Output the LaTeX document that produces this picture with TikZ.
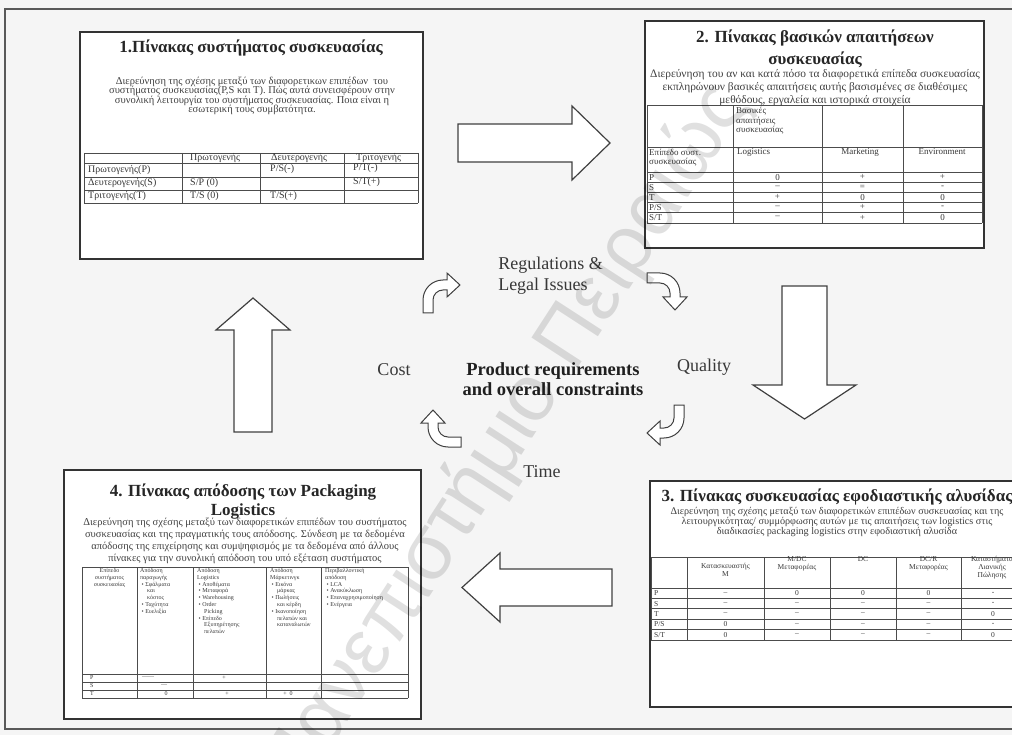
\documentclass[tikz,border=0pt]{standalone}
\usepackage{fontspec}
\setmainfont{Liberation Serif}
\newfontfamily\wmfont{Liberation Sans}
% font size with fixed line pitch, even when lines nearly touch
\newcommand\tfs[2]{\fontsize{#1}{#2}\selectfont\lineskiplimit=-30pt\lineskip=0pt\relax}
\tikzset{
  bendarrow/.pic={
    \draw[smallarrow] (-20,13) -- (-20,0)
      .. controls (-20,-11.05) and (-11.05,-20) .. (0,-20)
      -- (4,-20) -- (4,-27) -- (17,-15) -- (4,-3) -- (4,-10) -- (0,-10)
      .. controls (-5.52,-10) and (-10,-5.52) .. (-10,0)
      -- (-10,13) -- cycle;
  }
}
\begin{document}
\begin{tikzpicture}[x=1pt, y=-1pt,
  panel/.style={draw=black!80, line width=1.4pt, fill=white, inner sep=0pt, outer sep=0pt},
  grid/.style={draw=black!70, line width=0.8pt},
  bigarrow/.style={draw=black!75, line width=1.2pt, fill=white, line join=miter},
  smallarrow/.style={draw=black!75, line width=1pt, fill=white, line join=miter},
  ttl/.style={font=\bfseries\tfs{17}{21}, align=center, inner sep=0pt, text=black!85},
  para/.style={align=center, inner sep=0pt, text=black!75},
  txt/.style={inner sep=0pt, text=black!78},
  lbl/.style={font=\tfs{18}{21}, inner sep=0pt, text=black!78},
  core/.style={font=\bfseries\tfs{18.5}{20.5}, align=center, inner sep=0pt, text=black!88},
]
\useasboundingbox (0,0) rectangle (1012,735);
\clip (0,0) rectangle (1012,735);
\fill[black!4] (0,0) rectangle (1012,735);
\draw[black!65, line width=1.2pt] (5,9) rectangle (1030,729);

% ---------- four panels ----------
\node (p1) [panel, minimum width=343pt, minimum height=227pt] at (251.5,145.5) {};
\node (p2) [panel, minimum width=339pt, minimum height=227pt] at (814.5,134.5) {};
\node (p3) [panel, minimum width=375pt, minimum height=226pt] at (837.5,594) {};
\node (p4) [panel, minimum width=357pt, minimum height=249pt] at (242.5,594.5) {};

% ---------- block arrows between panels ----------
\draw[bigarrow] (458,124) -- (572,124) -- (572,106) -- (610,143) -- (572,180) -- (572,162) -- (458,162) -- cycle;
\draw[bigarrow] (782,286) -- (827,286) -- (827,385) -- (856,385) -- (804.5,419) -- (753,385) -- (782,385) -- cycle;
\draw[bigarrow] (612,569) -- (500,569) -- (500,553) -- (462,587.5) -- (500,622) -- (500,606) -- (612,606) -- cycle;
\draw[bigarrow] (234,432) -- (234,330) -- (216,330) -- (253,298) -- (290,330) -- (272,330) -- (272,432) -- cycle;

% ---------- small bent arrows round the centre ----------
\pic at (443,300) {bendarrow};
\pic[rotate=-90] at (660,293) {bendarrow};
\pic[rotate=180] at (664,418) {bendarrow};
\pic[rotate=90] at (448,427) {bendarrow};

% ---------- centre texts ----------
\node (reg) [lbl, align=left] at (550.5,275.5) {Regulations \&\\Legal Issues};
\node (cost) [lbl] at (394,370) {Cost};
\node (qual) [lbl] at (704,367) {Quality};
\node (time) [lbl] at (542,472) {Time};
\node (core) [core] at (553,379) {Product requirements\\and overall constraints};

% ---------- panel 1 ----------
\node (t1) [ttl] at (251,48) {1.Πίνακας συστήματος συσκευασίας};
\node (d1) [para, font=\tfs{10.5}{9.3}] at (252,96) {Διερεύνηση της σχέσης μεταξύ των διαφορετικων επιπέδων \ του\\συστήματος συσκευασίας(P,S και T). Πώς αυτά συνεισφέρουν στην\\συνολική λειτουργία του συστήματος συσκευασίας. Ποια είναι η\\εσωτερική τους συμβατότητα.};
\foreach \y in {153,163,177,190,203} \draw[grid] (84,\y) -- (418,\y);
\foreach \x in {84,182,260,344,418} \draw[grid] (\x,153) -- (\x,203);
\begin{scope}[every node/.style={txt, anchor=west, font=\tfs{10}{11}}]
  \node (a11) at (190,158) {Πρωτογενής};
  \node (a12) at (271,158) {Δευτερογενής};
  \node (a13) at (356,158) {Τριτογενής};
  \node (a21) at (88,170) {Πρωτογενής(P)};
  \node (a31) at (88,183.5) {Δευτερογενής(S)};
  \node (a41) at (88,196.5) {Τριτογενής(T)};
  \node (a23) at (270,169) {P/S(-)};
  \node (a24) at (353,168) {P/T(-)};
  \node (a32) at (190,183.5) {S/P (0)};
  \node (a34) at (353,182.5) {S/T(+)};
  \node (a42) at (190,196.5) {T/S (0)};
  \node (a43) at (270,196.5) {T/S(+)};
\end{scope}

% ---------- panel 2 ----------
\node (t2) [ttl, font=\bfseries\tfs{17}{22}] at (815,49) {2. Πίνακας βασικών απαιτήσεων\\συσκευασίας};
\node (d2) [para, font=\tfs{11.4}{13}] at (815,88) {Διερεύνηση του αν και κατά πόσο τα διαφορετικά επίπεδα συσκευασίας\\εκπληρώνουν βασικές απαιτήσεις αυτής βασισμένες σε διαθέσιμες\\μεθόδους, εργαλεία και ιστορικά στοιχεία};
\foreach \y in {105,147,172,182,192,202,212,223} \draw[grid] (647,\y) -- (982,\y);
\foreach \x in {647,733,822,903,982} \draw[grid] (\x,105) -- (\x,223);
\begin{scope}[every node/.style={txt, font=\tfs{9}{9.5}}]
  \node (b0) [anchor=north west, align=left] at (736,107) {Βασικές\\απαιτήσεις\\συσκευασίας};
  \node (b1) [anchor=north west, align=left] at (649,148.5) {Επίπεδο συστ.\\συσκευασίας};
  \node (b2) [anchor=west] at (737,152) {Logistics};
  \node (b3) at (860,152) {Marketing};
  \node (b4) at (942,152) {Environment};
  \foreach \lab [count=\i] in {P,S,T,P/S,S/T}
    \node (b\i l) [anchor=west] at (649,{167+10.1*\i}) {\lab};
  \foreach \a/\b/\c [count=\i] in {0/+/+,–/=/-,+/0/0,–/+/-,–/+/0} {
    \node (b\i a) at (777.5,{167+10.1*\i}) {\a};
    \node (b\i b) at (862.5,{167+10.1*\i}) {\b};
    \node (b\i c) at (942.5,{167+10.1*\i}) {\c};
  }
\end{scope}

% ---------- panel 3 ----------
\node (t3) [ttl] at (837,497) {3. Πίνακας συσκευασίας εφοδιαστικής αλυσίδας};
\node (d3) [para, font=\tfs{10.2}{9.8}] at (837,522) {Διερεύνηση της σχέσης μεταξύ των διαφορετικών επιπέδων συσκευασίας και της\\λειτουργικότητας/ συμμόρφωσης αυτών με τις απαιτήσεις των logistics στις\\διαδικασίες packaging logistics στην εφοδιαστική αλυσίδα};
\foreach \y in {557,588,598.4,608.8,619.2,629.6,640} \draw[grid] (651,\y) -- (1030,\y);
\foreach \x in {651,687,764,830,896,961} \draw[grid] (\x,557) -- (\x,640);
\begin{scope}[every node/.style={txt, font=\tfs{7.5}{8.2}, align=center}]
  \node (c1) [anchor=north] at (725.5,563) {Κατασκευαστής\\M};
  \node (c2) [anchor=north] at (797,556) {M/DC\\Μεταφορέας};
  \node (c3) [anchor=north] at (863,556) {DC};
  \node (c4) [anchor=north] at (928.5,556) {DC/R\\Μεταφορέας};
  \node (c5) [anchor=north] at (992,556) {Καταστήματα\\Λιανικής\\Πώλησης};
  \foreach \lab [count=\i] in {P,S,T,P/S,S/T}
    \node (c\i l) [anchor=west] at (654,{582.8+10.4*\i}) {\lab};
  \foreach \a/\b/\c/\d/\e [count=\i] in {–/0/0/0/-,–/–/–/–/-,–/–/–/–/0,0/–/–/–/-,0/–/–/–/0} {
    \node (c\i a) at (725.5,{582.8+10.4*\i}) {\a};
    \node (c\i b) at (797,{582.8+10.4*\i}) {\b};
    \node (c\i c) at (863,{582.8+10.4*\i}) {\c};
    \node (c\i d) at (928.5,{582.8+10.4*\i}) {\d};
    \node (c\i e) at (993,{582.8+10.4*\i}) {\e};
  }
\end{scope}

% ---------- panel 4 ----------
\node (t4) [ttl, font=\bfseries\tfs{17}{19}] at (243,501.5) {4. Πίνακας απόδοσης των Packaging\\Logistics};
\node (d4) [para, font=\tfs{10.5}{12}] at (245,541) {Διερεύνηση της σχέσης μεταξύ των διαφορετικών επιπέδων του συστήματος\\συσκευασίας και της πραγματικής τους απόδοσης. Σύνδεση με τα δεδομένα\\απόδοσης της επιχείρησης και συμψηφισμός με τα δεδομένα από άλλους\\πίνακες για την συνολική απόδοση του υπό εξέταση συστήματος};
\foreach \y in {567,674,682,690,698} \draw[grid] (82,\y) -- (408,\y);
\foreach \x in {82,137,193,266,321,408} \draw[grid] (\x,567) -- (\x,698);
\begin{scope}[every node/.style={txt, font=\tfs{6}{6.8}, align=left, anchor=north west}]
  \node (e1) [align=center, anchor=north] at (109.5,568) {Επίπεδο\\συστήματος\\συσκευασίας};
  \node (e2) at (140,568) {Απόδοση\\παραγωγής\\\ • Σφάλματα\\\hspace*{7pt}και\\\hspace*{7pt}κόστος\\\ • Ταχύτητα\\\ • Ευελιξία};
  \node (e3) at (197,568) {Απόδοση\\Logistics\\\ • Αποθέματα\\\ • Μεταφορά\\\ • Warehousing\\\ • Order\\\hspace*{7pt}Picking\\\ • Επίπεδο\\\hspace*{7pt}Εξυπηρέτησης\\\hspace*{7pt}πελατών};
  \node (e4) at (270,568) {Απόδοση\\Μάρκετινγκ\\\ • Εικόνα\\\hspace*{7pt}μάρκας\\\ • Πωλήσεις\\\hspace*{7pt}και κέρδη\\\ • Ικανοποίηση\\\hspace*{7pt}πελατών και\\\hspace*{7pt}καταναλωτών};
  \node (e5) at (325,568) {Περιβαλλοντική\\απόδοση\\\ • LCA\\\ • Ανακύκλωση\\\ • Επαναχρησιμοποίηση\\\ • Ενέργεια};
\end{scope}
\begin{scope}[every node/.style={txt, font=\tfs{6}{6.8}}]
  \node (f1) [anchor=west] at (90,678) {P};
  \node (f2) [anchor=west] at (90,686) {S};
  \node (f3) [anchor=west] at (90,694) {T};
  \node (f1a) at (148,678) {——};
  \node (f1b) at (224,678) {+};
  \node (f2a) at (164,686) {—};
  \node (f3a) at (166,694) {0};
  \node (f3b) at (227,694) {+};
  \node (f3c) at (288,694) {+ \ 0};
\end{scope}

% ---------- repository watermark ----------
\node (wm) [rotate=57, font=\wmfont\fontsize{80}{80}\selectfont, text=black, text opacity=0.12, inner sep=0pt] at (505,440) {Πανεπιστήμιο Πειραιώς};
\end{tikzpicture}
\end{document}
